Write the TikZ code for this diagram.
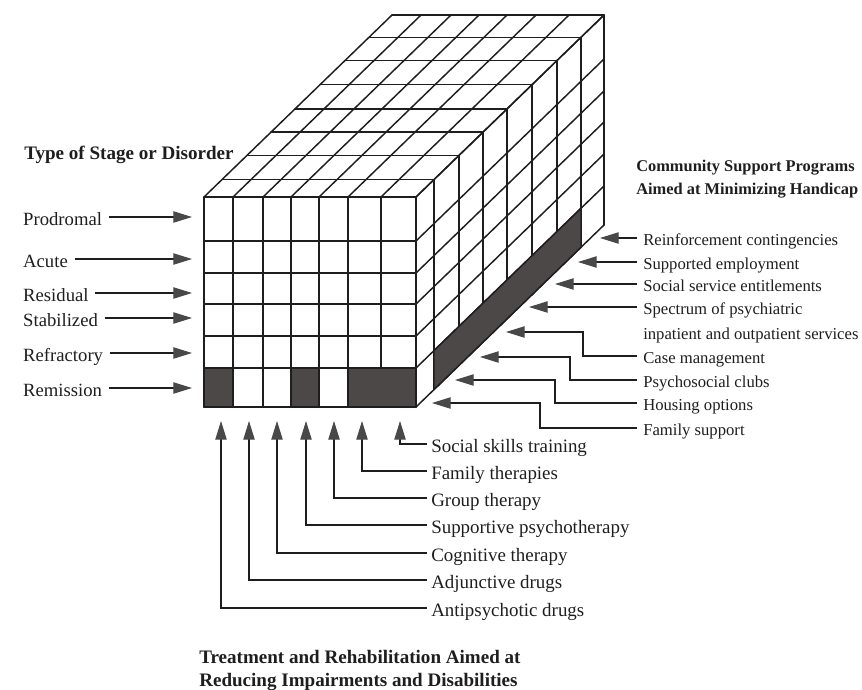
\documentclass[tikz,border=0pt]{standalone}
\usepackage{fontspec}
\setmainfont{Liberation Serif}
\usetikzlibrary{arrows.meta}
\definecolor{cellshade}{RGB}{76,72,72}
\definecolor{tipgray}{RGB}{72,72,72}
\definecolor{ink}{RGB}{30,30,30}
\begin{document}
\begin{tikzpicture}[x=0.75pt,y=-0.75pt,
  grid/.style={line width=1.1pt,line cap=round,line join=round,draw=ink},
  darkcell/.style={fill=cellshade,draw=ink,line width=1.1pt,line join=round},
  arr/.style={line width=0.85pt,draw=ink,-{Triangle[length=14pt,width=8.5pt,color=tipgray,fill=tipgray]}},
  lft/.style={anchor=west,text=ink,font=\fontsize{14}{16}\selectfont,inner xsep=5pt,inner ysep=0pt,text height=13pt,text depth=1pt},
  bot/.style={anchor=west,text=ink,font=\fontsize{14.2}{16}\selectfont,inner xsep=3pt,inner ysep=0pt,text height=13pt,text depth=1pt},
  rgt/.style={anchor=west,text=ink,font=\fontsize{12.5}{15}\selectfont,inner xsep=4.5pt,inner ysep=0pt,text height=11.5pt,text depth=1pt},
  ttl/.style={anchor=base west,text=ink,font=\bfseries\fontsize{14.3}{17}\selectfont,inner sep=0pt},
  ttr/.style={anchor=base west,text=ink,font=\bfseries\fontsize{12.3}{15}\selectfont,inner sep=0pt}]
\useasboundingbox (0,0) rectangle (862,689);

% ---------- front face ----------
\foreach \x in {204,233,263,291,319,348,381,416}
  \draw[grid] (\x,197) -- (\x,407);
\foreach \y in {197,241,273,304,336,368,407}
  \draw[grid] (204,\y) -- (416,\y);

% ---------- top face ----------
\foreach \d in {18,43,67,91,116,141,165,188}
  \draw[grid] ({204+\d},{197-\d*0.968}) -- ({416+\d},{197-\d*0.968});
\foreach \x in {204,233,263,291,319,348,381,416}
  \draw[grid] (\x,197) -- ({\x+188},{197-188*0.968});

% ---------- right face ----------
\foreach \d in {18,43,67,91,116,141,165,188}
  \draw[grid] ({416+\d},{197-\d*0.968}) -- ({416+\d},{407-\d*0.968});
\foreach \y in {197,241,273,304,336,368,407}
  \draw[grid] (416,\y) -- (604,{\y-188*0.968});

% ---------- shaded cells (solid, covering inner lines) ----------
\path[darkcell] (204,368) rectangle (233,407);
\path[darkcell] (291,368) rectangle (319,407);
\path[darkcell] (348,368) rectangle (416,407);
\path[darkcell] ({416+18},{368-18*0.968}) -- ({416+165},{368-165*0.968})
  -- ({416+165},{407-165*0.968}) -- ({416+18},{407-18*0.968}) -- cycle;

% ---------- titles ----------
\node[ttl] (tstage) at (24,159) {Type of Stage or Disorder};
\node[ttr] (tcomm1) at (636,171) {Community Support Programs};
\node[ttr] (tcomm2) at (636,194) {Aimed at Minimizing Handicap};
\node[ttl] (ttreat1) at (199,663) {Treatment and Rehabilitation Aimed at};
\node[ttl] (ttreat2) at (199,686) {Reducing Impairments and Disabilities};

% ---------- left labels ----------
\coordinate (tl1) at (192,217);
\coordinate (tl2) at (192,259);
\coordinate (tl3) at (192,293);
\coordinate (tl4) at (192,318);
\coordinate (tl5) at (192,353);
\coordinate (tl6) at (192,388);
\node[lft] (prod) at (16.3,217) {Prodromal};
\node[lft] (acut) at (16.3,259) {Acute};
\node[lft] (resi) at (16.3,293) {Residual};
\node[lft] (stab) at (16.3,318) {Stabilized};
\node[lft] (refr) at (16.3,353) {Refractory};
\node[lft] (remi) at (16.3,388) {Remission};
\draw[arr] (prod.east) -- (tl1);
\draw[arr] (acut.east) -- (tl2);
\draw[arr] (resi.east) -- (tl3);
\draw[arr] (stab.east) -- (tl4);
\draw[arr] (refr.east) -- (tl5);
\draw[arr] (remi.east) -- (tl6);

% ---------- bottom labels ----------
\coordinate (tb1) at (221,421);
\coordinate (tb2) at (249,421);
\coordinate (tb3) at (277,421);
\coordinate (tb4) at (306,421);
\coordinate (tb5) at (334,421);
\coordinate (tb6) at (362,421);
\coordinate (tb7) at (400,421);
\node[bot] (ssk) at (427,444) {Social skills training};
\node[bot] (fam) at (427,471) {Family therapies};
\node[bot] (grp) at (427,498) {Group therapy};
\node[bot] (sup) at (427,525) {Supportive psychotherapy};
\node[bot] (cog) at (427,553) {Cognitive therapy};
\node[bot] (adj) at (427,580) {Adjunctive drugs};
\node[bot] (ant) at (427,608) {Antipsychotic drugs};
\draw[arr] (ssk.west) -| (tb7);
\draw[arr] (fam.west) -| (tb6);
\draw[arr] (grp.west) -| (tb5);
\draw[arr] (sup.west) -| (tb4);
\draw[arr] (cog.west) -| (tb3);
\draw[arr] (adj.west) -| (tb2);
\draw[arr] (ant.west) -| (tb1);

% ---------- right labels ----------
\coordinate (tr1) at (600,238);
\coordinate (tr2) at (578,262);
\coordinate (tr3) at (555,284);
\coordinate (tr4) at (529,307);
\coordinate (tr5) at (506,332);
\coordinate (tr6) at (480,357);
\coordinate (tr7) at (455,380);
\coordinate (tr8) at (432,403);
\coordinate (jr5) at (583,332);
\coordinate (jr6) at (570,357);
\coordinate (jr7) at (555,380);
\coordinate (jr8) at (540,403);
\node[rgt] (rein) at (637,238) {Reinforcement contingencies};
\node[rgt] (semp) at (637,262) {Supported employment};
\node[rgt] (sser) at (637,284) {Social service entitlements};
\node[rgt] (spec) at (637,307) {Spectrum of psychiatric};
\node[rgt] (spec2) at (637,332) {inpatient and outpatient services};
\node[rgt] (case) at (637,356) {Case management};
\node[rgt] (psyc) at (637,380) {Psychosocial clubs};
\node[rgt] (hous) at (637,403) {Housing options};
\node[rgt] (fsup) at (637,428) {Family support};
\draw[arr] (rein.west) -- (tr1);
\draw[arr] (semp.west) -- (tr2);
\draw[arr] (sser.west) -- (tr3);
\draw[arr] (spec.west) -- (tr4);
\draw[arr] (case.west) -| (jr5) -- (tr5);
\draw[arr] (psyc.west) -| (jr6) -- (tr6);
\draw[arr] (hous.west) -| (jr7) -- (tr7);
\draw[arr] (fsup.west) -| (jr8) -- (tr8);
\end{tikzpicture}
\end{document}
